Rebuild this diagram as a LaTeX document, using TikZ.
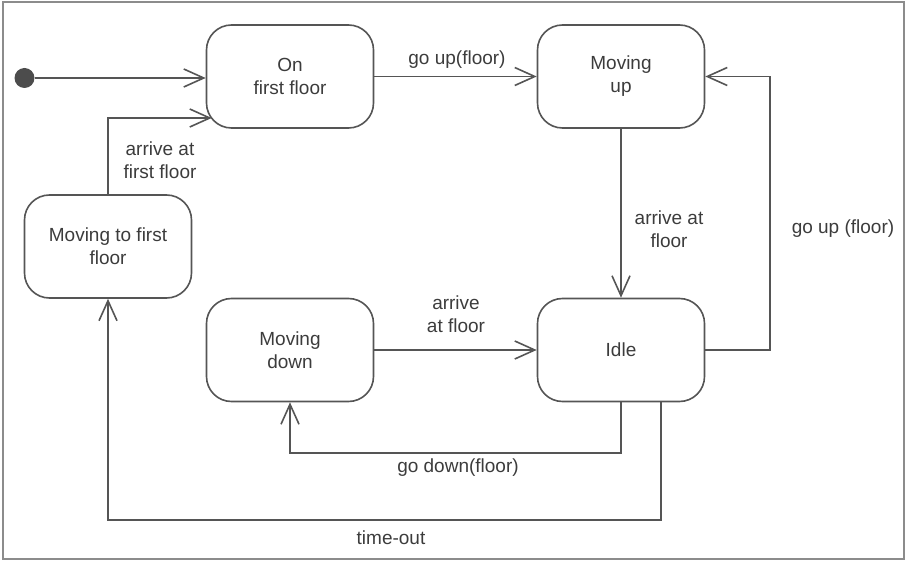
\documentclass[tikz,border=0pt]{standalone}
\usepackage{fontspec}
\setmainfont{Liberation Sans}
\usetikzlibrary{arrows.meta}
\definecolor{linegray}{HTML}{555555}
\definecolor{textgray}{HTML}{3C3C3C}
\definecolor{framegray}{HTML}{8C8C8C}
\tikzset{
  state/.style={draw=linegray, line width=1.6pt, rounded corners=25pt,
    minimum width=167pt, minimum height=103pt, align=center,
    text=textgray, font=\fontsize{19}{23}\selectfont, inner sep=0pt},
  lbl/.style={text=textgray, font=\fontsize{19}{23}\selectfont, align=center, inner sep=0pt},
  trans/.style={draw=linegray, line width=1.6pt,
    -{Straight Barb[length=20pt,width=18pt]}},
}
\begin{document}
\begin{tikzpicture}[x=1pt,y=-1pt]
\useasboundingbox (0,0) rectangle (907,561);
\draw[framegray, line width=2.5pt] (3,2) rectangle (904,559);

\node[circle, fill=linegray!90!black, minimum size=20pt, inner sep=0pt] (init) at (24.5,78) {};
\node[state] (on) at (290,76.5) {On\\first floor};
\node[state] (up) at (621,76.5) {Moving\\up};
\node[state] (mtf) at (108,246.5) {Moving to first\\floor};
\node[state] (down) at (290,350) {Moving\\down};
\node[state] (idle) at (621,350) {Idle};

\coordinate (rt) at (770,0);

\draw[trans] (init.east) -- (init.east -| on.west);
\draw[trans] (on.east) -- (up.west);
\draw[trans] (mtf.north) |- ([xshift=6pt,yshift=-41.5pt]on.west);
\draw[trans] (up.south) -- (idle.north);
\draw[trans] (idle.east) -| (rt |- up.east) -- (up.east);
\draw[trans] (down.east) -- (idle.west);
\draw[trans] (idle.south) -- ++(0,50.5) -| (down.south);
\draw[trans] ([xshift=40pt]idle.south) -- ++(0,117.5) -| (mtf.south);

\node[lbl] (l1) at (457,60) {go up(floor)};
\node[lbl] (l2) at (160,160) {arrive at\\first floor};
\node[lbl] (l3) at (669,229) {arrive at\\floor};
\node[lbl] (l4) at (843,229) {go up (floor)};
\node[lbl] (l5) at (456,314) {arrive\\at floor};
\node[lbl] (l6) at (458,468) {go down(floor)};
\node[lbl] (l7) at (391,538) {time-out};
\end{tikzpicture}
\end{document}
